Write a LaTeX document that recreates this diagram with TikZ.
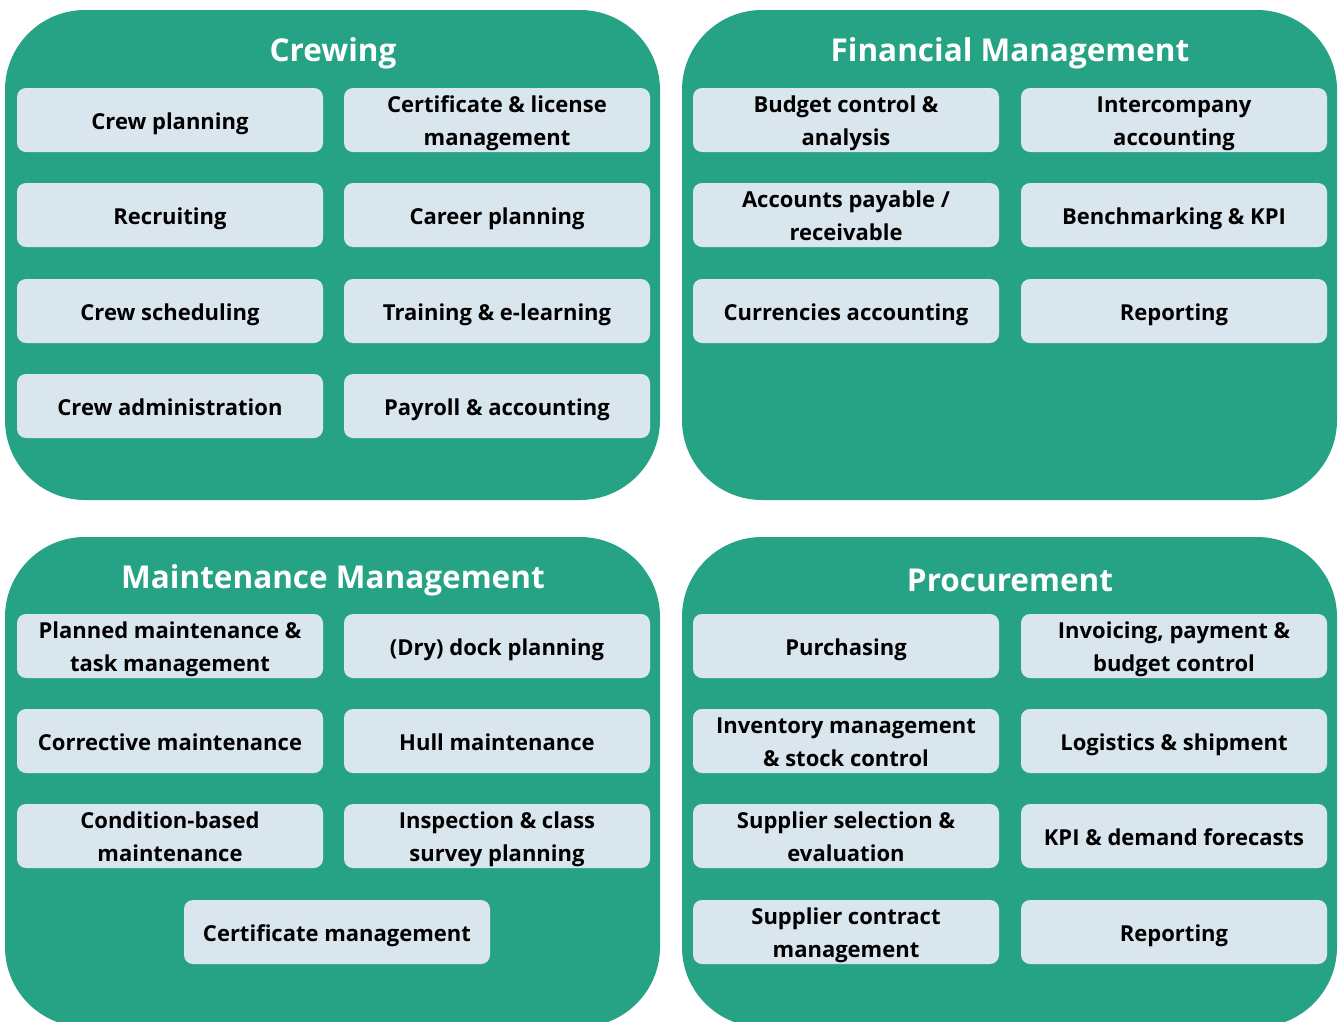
\documentclass[tikz,border=0pt]{standalone}
\usepackage{fontspec}
\setmainfont{Open Sans}
\definecolor{panelgreen}{RGB}{38,163,132}
\definecolor{tilefill}{RGB}{218,230,237}

% tile labels with fixed height/depth, so one- and two-line texts sit alike
\newcommand\tilesingle[1]{\raisebox{0pt}[23pt][5pt]{#1}}
\newcommand\tiledouble[2]{\raisebox{0pt}[23pt][38pt]{%
  \begin{tabular}[t]{@{}c@{}}#1\\#2\end{tabular}}}

\begin{document}
\begin{tikzpicture}[x=1pt,y=-1pt,
  panelbox/.style={fill=panelgreen, rounded corners=80pt},
  tile/.style={fill=tilefill, rounded corners=9pt, minimum width=306pt,
    minimum height=64pt, inner sep=0pt, text=black,
    font=\fontsize{22}{33}\selectfont\bfseries},
  paneltitle/.style={text=white, inner sep=0pt,
    font=\fontsize{31.5}{38}\selectfont\bfseries}]
\useasboundingbox (0,0) rectangle (1338,1021);
\clip (0,0) rectangle (1338,1021);

% four module panels
\fill[panelbox] (5,10) rectangle (660,500);
\fill[panelbox] (682,10) rectangle (1337,500);
\fill[panelbox] (5,537) rectangle (660,1027);
\fill[panelbox] (682,537) rectangle (1337,1027);

% panel titles
\node[paneltitle] (tcrew) at (333,53) {Crewing};
\node[paneltitle] (tfin) at (1010,53) {Financial Management};
\node[paneltitle] (tmaint) at (333,580) {Maintenance Management};
\node[paneltitle] (tproc) at (1010,580) {Procurement};

% Crewing
\node[tile] (c1) at (170,120) {\tilesingle{Crew planning}};
\node[tile] (c2) at (497,120) {\tiledouble{Certificate \& license}{management}};
\node[tile] (c3) at (170,215) {\tilesingle{Recruiting}};
\node[tile] (c4) at (497,215) {\tilesingle{Career planning}};
\node[tile] (c5) at (170,311) {\tilesingle{Crew scheduling}};
\node[tile] (c6) at (497,311) {\tilesingle{Training \& e-learning}};
\node[tile] (c7) at (170,406) {\tilesingle{Crew administration}};
\node[tile] (c8) at (497,406) {\tilesingle{Payroll \& accounting}};

% Financial Management
\node[tile] (f1) at (846,120) {\tiledouble{Budget control \&}{analysis}};
\node[tile] (f2) at (1174,120) {\tiledouble{Intercompany}{accounting}};
\node[tile] (f3) at (846,215) {\tiledouble{Accounts payable /}{receivable}};
\node[tile] (f4) at (1174,215) {\tilesingle{Benchmarking \& KPI}};
\node[tile] (f5) at (846,311) {\tilesingle{Currencies accounting}};
\node[tile] (f6) at (1174,311) {\tilesingle{Reporting}};

% Maintenance Management
\node[tile] (m1) at (170,646) {\tiledouble{Planned maintenance \&}{task management}};
\node[tile] (m2) at (497,646) {\tilesingle{(Dry) dock planning}};
\node[tile] (m3) at (170,741) {\tilesingle{Corrective maintenance}};
\node[tile] (m4) at (497,741) {\tilesingle{Hull maintenance}};
\node[tile] (m5) at (170,836) {\tiledouble{Condition-based}{maintenance}};
\node[tile] (m6) at (497,836) {\tiledouble{Inspection \& class}{survey planning}};
\node[tile] (m7) at (337,932) {\tilesingle{Certificate management}};

% Procurement
\node[tile] (p1) at (846,646) {\tilesingle{Purchasing}};
\node[tile] (p2) at (1174,646) {\tiledouble{Invoicing, payment \&}{budget control}};
\node[tile] (p3) at (846,741) {\tiledouble{Inventory management}{\& stock control}};
\node[tile] (p4) at (1174,741) {\tilesingle{Logistics \& shipment}};
\node[tile] (p5) at (846,836) {\tiledouble{Supplier selection \&}{evaluation}};
\node[tile] (p6) at (1174,836) {\tilesingle{KPI \& demand forecasts}};
\node[tile] (p7) at (846,932) {\tiledouble{Supplier contract}{management}};
\node[tile] (p8) at (1174,932) {\tilesingle{Reporting}};
\end{tikzpicture}
\end{document}
